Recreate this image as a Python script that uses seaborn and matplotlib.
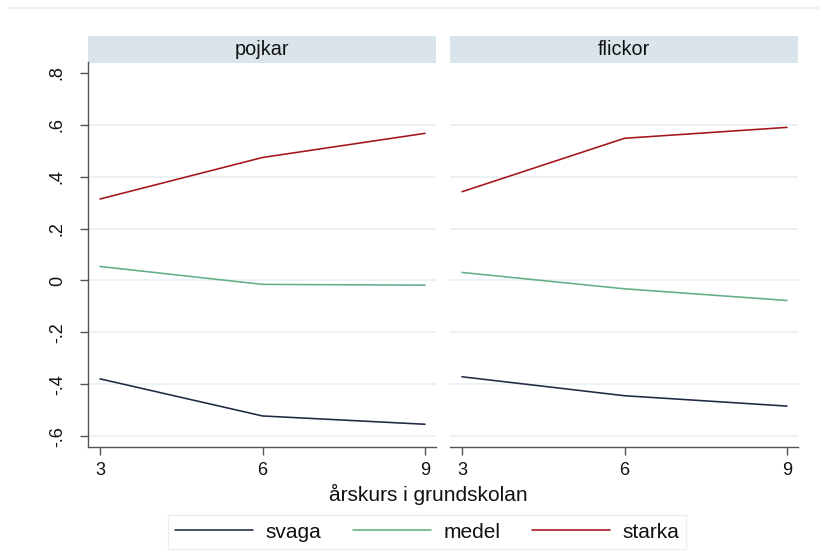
import matplotlib
matplotlib.use("Agg")
import matplotlib.pyplot as plt
from matplotlib.patches import Rectangle
from matplotlib.lines import Line2D
import seaborn as sns
import pandas as pd

# ---- data ----
grades = [3, 6, 9]
panels = ["pojkar", "flickor"]
groups = ["svaga", "medel", "starka"]
pojkar_svaga = [-0.379, -0.522, -0.554]
pojkar_medel = [0.054, -0.015, -0.018]
pojkar_starka = [0.314, 0.474, 0.567]
flickor_svaga = [-0.371, -0.444, -0.484]
flickor_medel = [0.031, -0.032, -0.077]
flickor_starka = [0.342, 0.548, 0.590]
ytick_vals = [-0.6, -0.4, -0.2, 0, 0.2, 0.4, 0.6, 0.8]
ytick_labels = ["-.6", "-.4", "-.2", "0", ".2", ".4", ".6", ".8"]
xlabel = "årskurs i grundskolan"

series = {
    ("pojkar", "svaga"): pojkar_svaga,
    ("pojkar", "medel"): pojkar_medel,
    ("pojkar", "starka"): pojkar_starka,
    ("flickor", "svaga"): flickor_svaga,
    ("flickor", "medel"): flickor_medel,
    ("flickor", "starka"): flickor_starka,
}
rows = []
for (p, g), vals in series.items():
    for x, v in zip(grades, vals):
        rows.append({"kön": p, "grupp": g, "årskurs": x, "värde": v})
df = pd.DataFrame(rows)

colors = {"svaga": "#1e2944", "medel": "#62ae86", "starka": "#a3141b"}

sns.set_theme(style="white")
plt.rcParams["font.family"] = ["Liberation Sans", "DejaVu Sans"]

W, H = 819, 554
fig = plt.figure(figsize=(W / 100, H / 100), dpi=100)

def fx(px):
    return px / W

def fy(py):
    return 1 - py / H

ax_top, ax_bot = 62.5, 447
lefts = [88, 450]
pw = 348
axes = []
for i, p in enumerate(panels):
    ax = fig.add_axes([fx(lefts[i]), fy(ax_bot), pw / W, (ax_bot - ax_top) / H])
    sub = df[df["kön"] == p]
    sns.lineplot(data=sub, x="årskurs", y="värde", hue="grupp", hue_order=groups,
                 palette=colors, ax=ax, legend=False, linewidth=1.15, sort=False)
    ax.set_xlim(2.778, 9.203)
    ax.set_ylim(-0.6416, 0.840)
    ax.set_xticks(grades)
    ax.set_xticklabels([str(g) for g in grades])
    ax.set_yticks(ytick_vals)
    ax.grid(axis="y", color="#e9f1f2", linewidth=1.3)
    ax.set_axisbelow(True)
    gl = ax.get_ygridlines()
    gl[-1].set_visible(False)
    for s in ["top", "right"]:
        ax.spines[s].set_visible(False)
    ax.spines["bottom"].set_color("#555555")
    ax.spines["bottom"].set_linewidth(1.0)
    ax.tick_params(axis="x", direction="out", length=6, width=1.0, color="#555555",
                   labelsize=13, pad=4.5, labelcolor="#111111", bottom=True)
    if i == 0:
        ax.spines["left"].set_color("#555555")
        ax.spines["left"].set_linewidth(1.0)
        ax.set_yticklabels(ytick_labels, rotation=90, va="center")
        ax.tick_params(axis="y", direction="out", length=6, width=1.0, color="#555555",
                       labelsize=13, pad=10, labelcolor="#111111", left=True)
    else:
        ax.spines["left"].set_visible(False)
        ax.tick_params(axis="y", left=False, labelleft=False)
    ax.set_xlabel("")
    ax.set_ylabel("")
    # strip header
    strip_h = (ax_top - 36) / (ax_bot - ax_top)
    ax.add_patch(Rectangle((0, 1), 1, strip_h, transform=ax.transAxes,
                           facecolor="#d9e5eb", edgecolor="none", clip_on=False))
    ax.text(0.5, 1 + strip_h / 2, p, transform=ax.transAxes, ha="center",
            va="center", fontsize=14.3, color="#111111")
    axes.append(ax)

fig.text(fx(428), fy(494), xlabel, ha="center", va="center", fontsize=15,
         color="#111111")

# thin top border line
fig.add_artist(Line2D([fx(8), 1], [fy(8), fy(8)], color="#e6eef0", linewidth=1.2))

handles = [Line2D([], [], color=colors[g], linewidth=1.15) for g in groups]
leg = fig.legend(handles, groups, loc="center", bbox_to_anchor=(fx(427), fy(532)),
                 ncol=3, fontsize=15, frameon=True, fancybox=False,
                 handlelength=3.75, handletextpad=0.6, columnspacing=1.5,
                 borderpad=0.35, borderaxespad=0)
leg.get_frame().set_edgecolor("#e3ecee")
leg.get_frame().set_linewidth(1.0)
for t in leg.get_texts():
    t.set_color("#111111")

fig.savefig("out.png", dpi=100, facecolor="white")
